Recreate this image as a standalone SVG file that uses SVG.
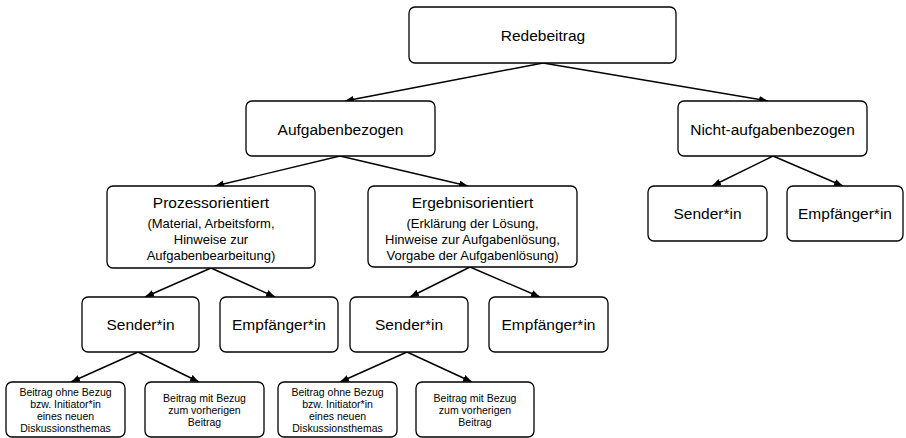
<svg xmlns="http://www.w3.org/2000/svg" width="906" height="438" viewBox="0 0 906 438">
<defs>
<marker id="ah" markerUnits="userSpaceOnUse" markerWidth="10" markerHeight="8" refX="9" refY="3.5" orient="auto">
<path d="M0,0 L9,3.5 L0,7 z" fill="#000"/>
</marker>
<style>
.box{fill:#fff;stroke:#000;stroke-width:1.3}
.t{font-family:"Liberation Sans",Arial,sans-serif;fill:#000;text-anchor:middle}
.l{font-size:15.5px}
.s{font-size:13px}
.x{font-size:10.5px}
.c{stroke:#000;stroke-width:1.4;fill:none;marker-end:url(#ah)}
</style>
</defs>
<rect width="906" height="438" fill="#fff"/>
<g id="connectors">
<line class="c" x1="543" y1="63" x2="345" y2="101"/>
<line class="c" x1="543" y1="63" x2="768" y2="101"/>
<line class="c" x1="340" y1="156" x2="215" y2="186"/>
<line class="c" x1="340" y1="156" x2="468" y2="186"/>
<line class="c" x1="773" y1="156" x2="712" y2="186"/>
<line class="c" x1="773" y1="156" x2="843" y2="186"/>
<line class="c" x1="211" y1="268" x2="145" y2="297"/>
<line class="c" x1="211" y1="268" x2="275" y2="297"/>
<line class="c" x1="470" y1="267" x2="410" y2="297"/>
<line class="c" x1="470" y1="267" x2="540" y2="297"/>
<line class="c" x1="138" y1="352" x2="71" y2="382"/>
<line class="c" x1="138" y1="352" x2="199" y2="382"/>
<line class="c" x1="407" y1="352" x2="340" y2="382"/>
<line class="c" x1="407" y1="352" x2="472" y2="382"/>
</g>
<g id="redebeitrag">
<rect class="box" x="409" y="7" width="267" height="56" rx="6"/>
<text class="t l" x="543" y="40.5">Redebeitrag</text>
</g>
<g id="aufgabenbezogen">
<rect class="box" x="246" y="101" width="189" height="55" rx="6"/>
<text class="t l" x="340.5" y="135">Aufgabenbezogen</text>
</g>
<g id="nicht-aufgabenbezogen">
<rect class="box" x="678" y="101" width="189" height="55" rx="6"/>
<text class="t l" x="772.5" y="135">Nicht-aufgabenbezogen</text>
</g>
<g id="prozessorientiert">
<rect class="box" x="107" y="186" width="208" height="82" rx="6"/>
<text class="t l" x="211" y="207.5">Prozessorientiert</text>
<text class="t s" x="211" y="228">(Material, Arbeitsform,</text>
<text class="t s" x="211" y="244">Hinweise zur</text>
<text class="t s" x="211" y="260">Aufgabenbearbeitung)</text>
</g>
<g id="ergebnisorientiert">
<rect class="box" x="368" y="186" width="209" height="81" rx="6"/>
<text class="t l" x="472.5" y="207.5">Ergebnisorientiert</text>
<text class="t s" x="472.5" y="228">(Erklärung der Lösung,</text>
<text class="t s" x="472.5" y="244">Hinweise zur Aufgabenlösung,</text>
<text class="t s" x="472.5" y="260">Vorgabe der Aufgabenlösung)</text>
</g>
<g id="sender-nicht">
<rect class="box" x="648" y="186" width="119" height="55" rx="6"/>
<text class="t l" x="707.5" y="219">Sender*in</text>
</g>
<g id="empfaenger-nicht">
<rect class="box" x="787" y="186" width="116" height="55" rx="6"/>
<text class="t l" x="845" y="219">Empfänger*in</text>
</g>
<g id="sender-prozess">
<rect class="box" x="82" y="297" width="117" height="55" rx="6"/>
<text class="t l" x="140.5" y="330">Sender*in</text>
</g>
<g id="empfaenger-prozess">
<rect class="box" x="220" y="297" width="118" height="55" rx="6"/>
<text class="t l" x="279" y="330">Empfänger*in</text>
</g>
<g id="sender-ergebnis">
<rect class="box" x="350" y="297" width="118" height="55" rx="6"/>
<text class="t l" x="409" y="330">Sender*in</text>
</g>
<g id="empfaenger-ergebnis">
<rect class="box" x="489" y="297" width="119" height="55" rx="6"/>
<text class="t l" x="548.5" y="330">Empfänger*in</text>
</g>
<g id="ohne-bezug-1">
<rect class="box" x="6" y="382" width="119" height="55" rx="6"/>
<text class="t x" x="65.5" y="396">Beitrag ohne Bezug</text>
<text class="t x" x="65.5" y="408">bzw. Initiator*in</text>
<text class="t x" x="65.5" y="420">eines neuen</text>
<text class="t x" x="65.5" y="432">Diskussionsthemas</text>
</g>
<g id="mit-bezug-1">
<rect class="box" x="145" y="382" width="119" height="55" rx="6"/>
<text class="t x" x="204.5" y="401.5">Beitrag mit Bezug</text>
<text class="t x" x="204.5" y="413.5">zum vorherigen</text>
<text class="t x" x="204.5" y="425.5">Beitrag</text>
</g>
<g id="ohne-bezug-2">
<rect class="box" x="278" y="382" width="119" height="55" rx="6"/>
<text class="t x" x="337.5" y="396">Beitrag ohne Bezug</text>
<text class="t x" x="337.5" y="408">bzw. Initiator*in</text>
<text class="t x" x="337.5" y="420">eines neuen</text>
<text class="t x" x="337.5" y="432">Diskussionsthemas</text>
</g>
<g id="mit-bezug-2">
<rect class="box" x="416" y="382" width="118" height="55" rx="6"/>
<text class="t x" x="475" y="401.5">Beitrag mit Bezug</text>
<text class="t x" x="475" y="413.5">zum vorherigen</text>
<text class="t x" x="475" y="425.5">Beitrag</text>
</g>
</svg>
